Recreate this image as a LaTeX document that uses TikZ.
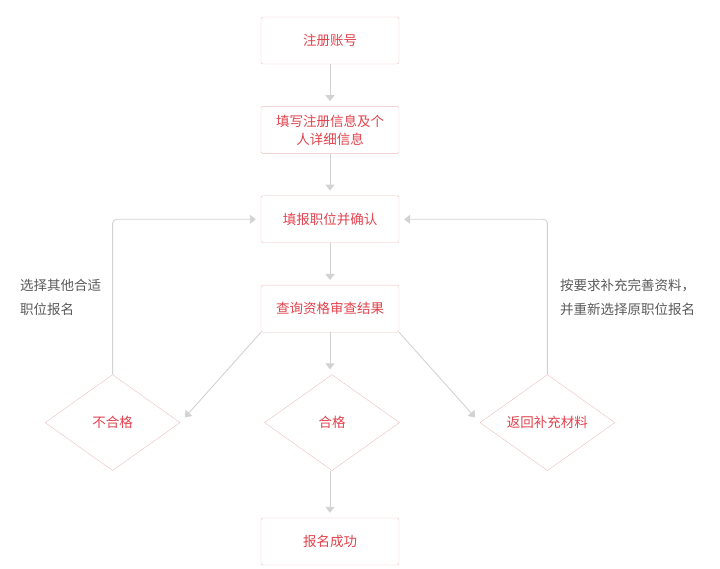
\documentclass[tikz,border=0pt]{standalone}
\usepackage{fontspec}
\newfontfamily\cjk{Noto Sans CJK SC}
\usetikzlibrary{positioning,shapes.geometric,arrows.meta}
\definecolor{boxline}{HTML}{EFBFC0}
\definecolor{boxtext}{HTML}{E2434E}
\definecolor{arrowgray}{HTML}{D2D2D2}
\definecolor{notegray}{HTML}{5A5A5A}

\begin{document}
\begin{tikzpicture}[
    x=1pt, y=-1pt,
    node distance=42pt and 82pt, % Vertical and horizontal distances
    block/.style={rectangle, draw=boxline, fill=white, text=boxtext, align=center, rounded corners=2pt, minimum height=47pt, minimum width=138pt, text width=120pt, inner sep=0pt, font=\cjk\fontsize{13.5}{18}\selectfont},
    choice/.style={diamond, draw=boxline, fill=white, text=boxtext, minimum width=135pt, minimum height=96pt, inner sep=0pt, font=\cjk\fontsize{13.5}{18}\selectfont},
    note/.style={text=notegray, align=left, anchor=west, inner sep=0pt, font=\cjk\fontsize{13.5}{24}\selectfont},
    arrow/.style={draw=arrowgray, line width=0.9pt, -{Triangle[length=6pt,width=9pt]}, shorten >=5pt}
]
    \useasboundingbox (0,0) rectangle (720,569);

    % Nodes
    \node (register) [block] at (330,40.5) {注册账号};
    \node (fillin) [block, below=of register] {填写注册信息及个\\人详细信息};
    \node (select) [block, below=of fillin] {填报职位并确认};
    \node (check) [block, below=of select] {查询资格审查结果};
    \node (pass) [choice, below=of check, xshift=2pt] {合格};
    \node (fail) [choice, left=84pt of pass] {不合格};
    \node (supply) [choice, right=80pt of pass] {返回补充材料};
    \node (done) [block, below=47pt of pass, xshift=-2pt] {报名成功};

    % Notes
    \node (failnote) [note] at (20,297) {选择其他合适\\职位报名};
    \node (supplynote) [note] at (560,297) {按要求补充完善资料，\\并重新选择原职位报名};

    % Connections
    \path [arrow] (register) -- (fillin);
    \path [arrow] (fillin) -- (select);
    \path [arrow] (select) -- (check);
    \path [arrow] (check) -- (check |- pass.north);
    \path [arrow] (pass.south -| done) -- (done);
    \path [arrow, shorten >=7pt] (check.south west) -- (fail.east);
    \path [arrow, shorten >=7pt] (check.south east) -- (supply.west);
    \path [arrow, rounded corners=4pt] (fail.north) |- (select.west);
    \path [arrow, rounded corners=4pt] (supply.north) |- (select.east);

\end{tikzpicture}
\end{document}
